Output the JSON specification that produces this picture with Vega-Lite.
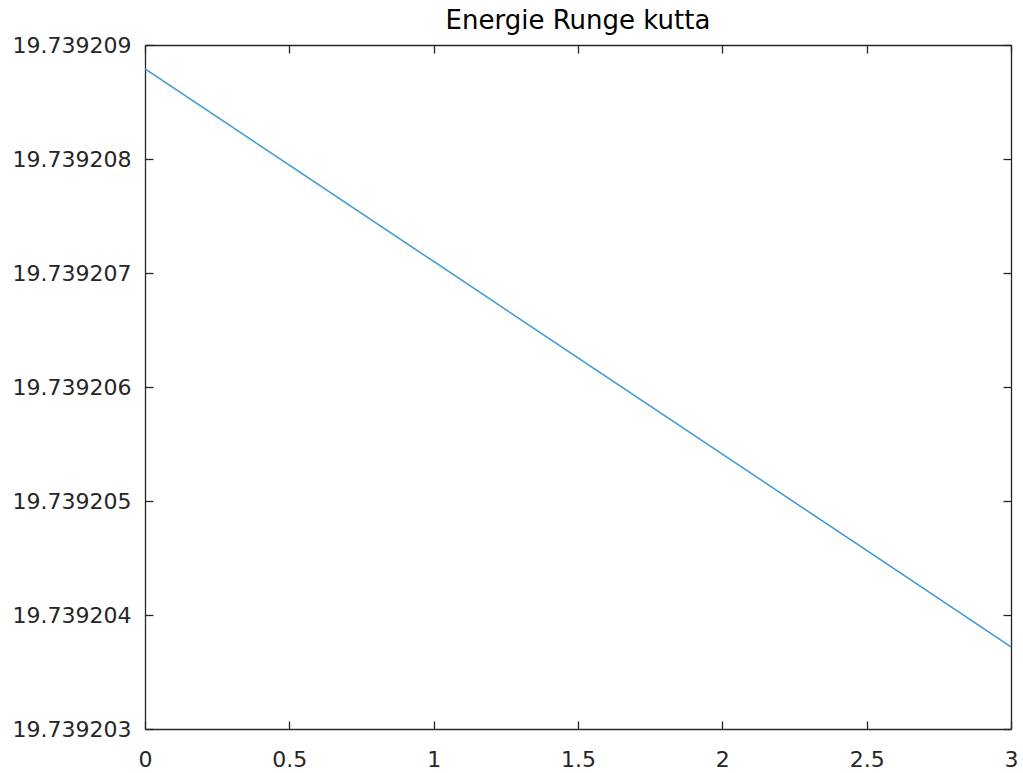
{
  "$schema": "https://vega.github.io/schema/vega-lite/v6.json",
  "width": 866,
  "height": 684,
  "autosize": {"type": "none"},
  "padding": {"left": 145, "top": 45, "right": 12, "bottom": 44},
  "background": "white",
  "title": {
    "text": "Energie Runge kutta",
    "font": "DejaVu Sans",
    "fontSize": 26,
    "fontWeight": "normal",
    "color": "#000000",
    "anchor": "middle",
    "offset": 0
  },
  "config": {
    "view": {"stroke": null},
    "axis": {
      "labelFont": "DejaVu Sans",
      "labelFontSize": 22,
      "labelColor": "#262626",
      "domainColor": "#262626",
      "tickColor": "#262626",
      "domainWidth": 1.3,
      "tickWidth": 1.3,
      "grid": false,
      "title": null
    }
  },
  "data": {
    "values": [
      {"t": 0, "E": 19.739208791},
      {"t": 0.5, "E": 19.739207946},
      {"t": 1, "E": 19.739207101},
      {"t": 1.5, "E": 19.739206256},
      {"t": 2, "E": 19.739205411},
      {"t": 2.5, "E": 19.739204566},
      {"t": 3, "E": 19.739203721}
    ]
  },
  "layer": [
    {
      "mark": {"type": "line", "color": "#3a96d8", "strokeWidth": 1.5, "clip": true},
      "encoding": {
        "x": {
          "field": "t", "type": "quantitative",
          "scale": {"domain": [0, 3], "nice": false, "zero": false},
          "axis": {"orient": "bottom", "values": [0, 0.5, 1, 1.5, 2, 2.5, 3], "format": "~g", "tickSize": -8, "labelPadding": 28, "labelFlush": false}
        },
        "y": {
          "field": "E", "type": "quantitative",
          "scale": {"domain": [19.739203, 19.739209], "nice": false, "zero": false},
          "axis": {"orient": "left", "values": [19.739203, 19.739204, 19.739205, 19.739206, 19.739207, 19.739208, 19.739209], "format": ".6f", "tickSize": -8, "labelPadding": 22, "labelFlush": false}
        }
      }
    },
    {
      "mark": {"type": "line", "opacity": 0},
      "encoding": {
        "x": {
          "field": "t", "type": "quantitative",
          "axis": {"orient": "top", "values": [0, 0.5, 1, 1.5, 2, 2.5, 3], "labels": false, "tickSize": -8}
        },
        "y": {
          "field": "E", "type": "quantitative",
          "axis": {"orient": "right", "values": [19.739203, 19.739204, 19.739205, 19.739206, 19.739207, 19.739208, 19.739209], "labels": false, "tickSize": -8}
        }
      }
    }
  ],
  "resolve": {"axis": {"x": "independent", "y": "independent"}}
}
